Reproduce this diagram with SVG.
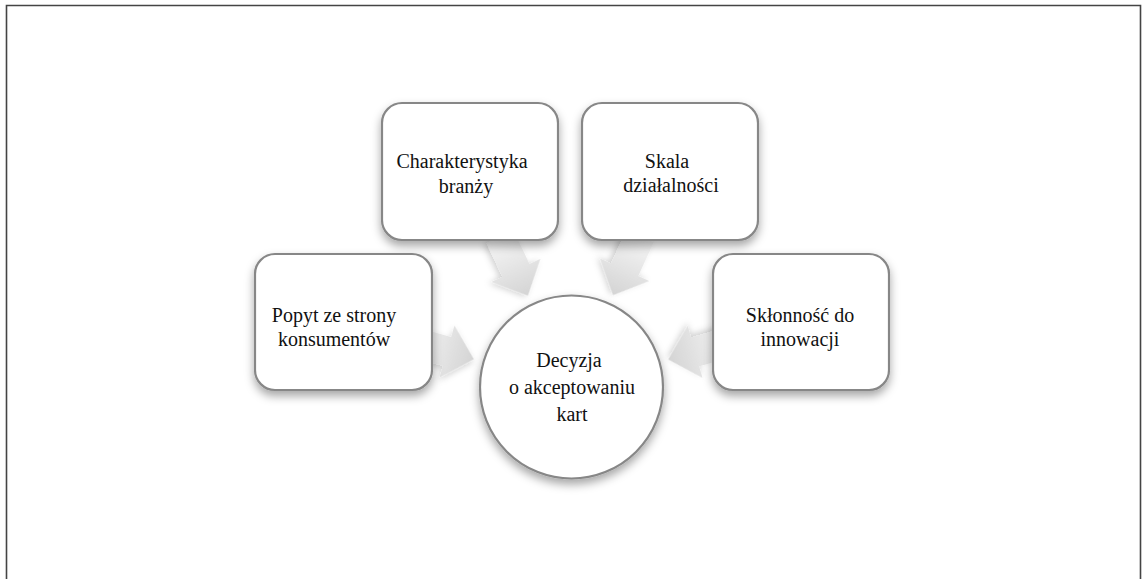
<svg xmlns="http://www.w3.org/2000/svg" width="1142" height="579" viewBox="0 0 1142 579">
  <defs>
    <filter id="sh" x="-30%" y="-30%" width="160%" height="170%">
      <feDropShadow dx="0" dy="5" stdDeviation="5" flood-color="#000" flood-opacity="0.35"/>
    </filter>
    <filter id="ash" x="-30%" y="-30%" width="160%" height="160%">
      <feDropShadow dx="0" dy="3" stdDeviation="3" flood-color="#000" flood-opacity="0.18"/>
    </filter>
    <linearGradient id="ag" gradientUnits="userSpaceOnUse" x1="-65" y1="0" x2="0" y2="0">
      <stop offset="0" stop-color="#f6f6f6"/>
      <stop offset="1" stop-color="#d4d4d4"/>
    </linearGradient>
    <polygon id="arr" points="-65,-15 -28,-15 -28,-27 0,0 -28,27 -28,15 -65,15"/>
  </defs>
  <style>
    .box{fill:#fff;stroke:#878787;stroke-width:2.2;filter:url(#sh)}
    .lbl{font-family:"Liberation Serif","Times New Roman",serif;font-size:20px;fill:#111;text-anchor:middle}
    .arrow{fill:url(#ag);filter:url(#ash)}
  </style>
  <rect width="1142" height="579" fill="#fff"/>
  <path d="M6.5,579 V5.5 H1140.5 V579" fill="none" stroke="#444" stroke-width="1.6"/>

  <g id="connectors">
    <use href="#arr" class="arrow" transform="translate(527.9,295.7) rotate(64.7)"/>
    <use href="#arr" class="arrow" transform="translate(613,295.2) rotate(114.6)"/>
    <use href="#arr" class="arrow" transform="translate(473.9,359.2) rotate(16)"/>
    <use href="#arr" class="arrow" transform="translate(668.2,359.5) rotate(164.2)"/>
  </g>

  <g id="node-branza">
    <rect class="box" x="382" y="103" width="176" height="137" rx="20"/>
    <text class="lbl"><tspan x="462" y="168">Charakterystyka</tspan><tspan x="466" y="193">branży</tspan></text>
  </g>
  <g id="node-skala">
    <rect class="box" x="582" y="103" width="176" height="137" rx="20"/>
    <text class="lbl"><tspan x="667" y="168">Skala</tspan><tspan x="671" y="192">działalności</tspan></text>
  </g>
  <g id="node-popyt">
    <rect class="box" x="255" y="254" width="177" height="136" rx="20"/>
    <text class="lbl"><tspan x="334" y="322">Popyt ze strony</tspan><tspan x="334" y="346">konsumentów</tspan></text>
  </g>
  <g id="node-sklonnosc">
    <rect class="box" x="713" y="254" width="176" height="136" rx="20"/>
    <text class="lbl"><tspan x="800" y="322">Skłonność do</tspan><tspan x="800" y="346">innowacji</tspan></text>
  </g>
  <g id="node-decyzja">
    <circle class="box" cx="571.5" cy="387" r="91.5"/>
    <text class="lbl"><tspan x="569" y="367">Decyzja</tspan><tspan x="572" y="394">o akceptowaniu</tspan><tspan x="572" y="421">kart</tspan></text>
  </g>
</svg>
